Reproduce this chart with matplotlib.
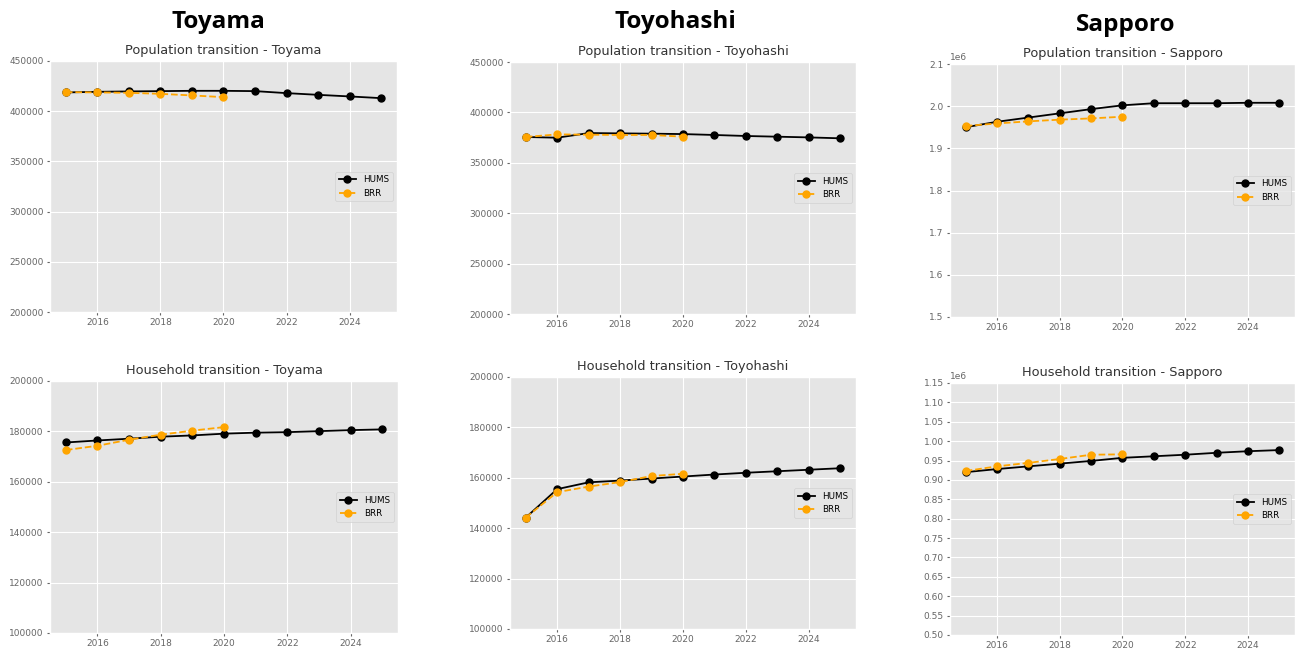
import matplotlib.pyplot as plt

plt.style.use('ggplot')

W, H = 1297, 651

years = list(range(2015, 2026))
years_brr = list(range(2015, 2021))

# Population (persons)
toyama_pop_hums = [418700, 419300, 419700, 420000, 420300, 420300, 420000, 418000, 416300, 414700, 413000]
toyama_pop_brr = [419000, 418700, 418300, 417300, 415700, 414000]
toyohashi_pop_hums = [375600, 374900, 379500, 379200, 378900, 378500, 377600, 376600, 375900, 375200, 374300]
toyohashi_pop_brr = [375600, 378200, 377900, 377600, 377600, 375900]
sapporo_pop_hums = [1950000, 1963000, 1973000, 1983000, 1993000, 2002000, 2007000, 2007000, 2007000, 2008000, 2008000]
sapporo_pop_brr = [1953000, 1959000, 1964000, 1968000, 1971000, 1975000]

# Households
toyama_hh_hums = [175600, 176400, 177100, 177900, 178400, 179100, 179500, 179700, 180100, 180500, 180800]
toyama_hh_brr = [172600, 174300, 176700, 178700, 180300, 181700]
toyohashi_hh_hums = [144200, 155500, 158200, 158900, 159700, 160500, 161300, 162000, 162600, 163200, 163800]
toyohashi_hh_brr = [144200, 154300, 156500, 158300, 160700, 161600]
sapporo_hh_hums = [920000, 928000, 935000, 942000, 949000, 957000, 961000, 965000, 970000, 974000, 977000]
sapporo_hh_brr = [923000, 935000, 944000, 954000, 965000, 966000]

cities = ['Toyama', 'Toyohashi', 'Sapporo']


def box(l, t, r, b):
    # pixel edges -> figure fraction rect
    return [l / W, (H - b) / H, (r - l) / W, (b - t) / H]


def draw(ax, title, hums, brr, ylim, step):
    ax.plot(years, hums, color='black', marker='o', markersize=5, linewidth=1.3, label='HUMS')
    ax.plot(years_brr, brr, color='orange', marker='o', markersize=5, linewidth=1.3,
            linestyle='--', label='BRR')
    ax.set_title(title, fontsize=9.3, color='#333333', pad=5)
    ax.set_ylim(*ylim)
    ax.set_yticks([ylim[0] + i * step for i in range(int(round((ylim[1] - ylim[0]) / step)) + 1)])
    ax.tick_params(labelsize=6.5, colors='#666666', length=2.5, pad=2)
    ax.yaxis.get_offset_text().set_fontsize(6.5)
    ax.yaxis.get_offset_text().set_color('#666666')
    ax.legend(loc='center right', fontsize=6.3)


fig = plt.figure(figsize=(W / 100, H / 100), dpi=100, facecolor='white')

panels = [
    (box(50, 61, 397, 312), 'Population transition - Toyama', toyama_pop_hums, toyama_pop_brr, (200000, 450000), 50000),
    (box(510, 62, 856, 314), 'Population transition - Toyohashi', toyohashi_pop_hums, toyohashi_pop_brr, (200000, 450000), 50000),
    (box(950, 64, 1295, 317), 'Population transition - Sapporo', sapporo_pop_hums, sapporo_pop_brr, (1500000, 2100000), 100000),
    (box(50, 381, 398, 633), 'Household transition - Toyama', toyama_hh_hums, toyama_hh_brr, (100000, 200000), 20000),
    (box(510, 377, 856, 629), 'Household transition - Toyohashi', toyohashi_hh_hums, toyohashi_hh_brr, (100000, 200000), 20000),
    (box(950, 383, 1295, 635), 'Household transition - Sapporo', sapporo_hh_hums, sapporo_hh_brr, (500000, 1150000), 50000),
]

for rect, title, hums, brr, ylim, step in panels:
    ax = fig.add_axes(rect)
    draw(ax, title, hums, brr, ylim, step)

# city headers above each column
for name, x, y in zip(cities, [218, 675, 1126], [22, 22, 25]):
    fig.text(x / W, 1 - y / H, name, ha='center', va='center', fontsize=17.5,
             fontweight='bold', family='Open Sans', color='black')

fig.savefig('out.png', dpi=100, facecolor='white')
